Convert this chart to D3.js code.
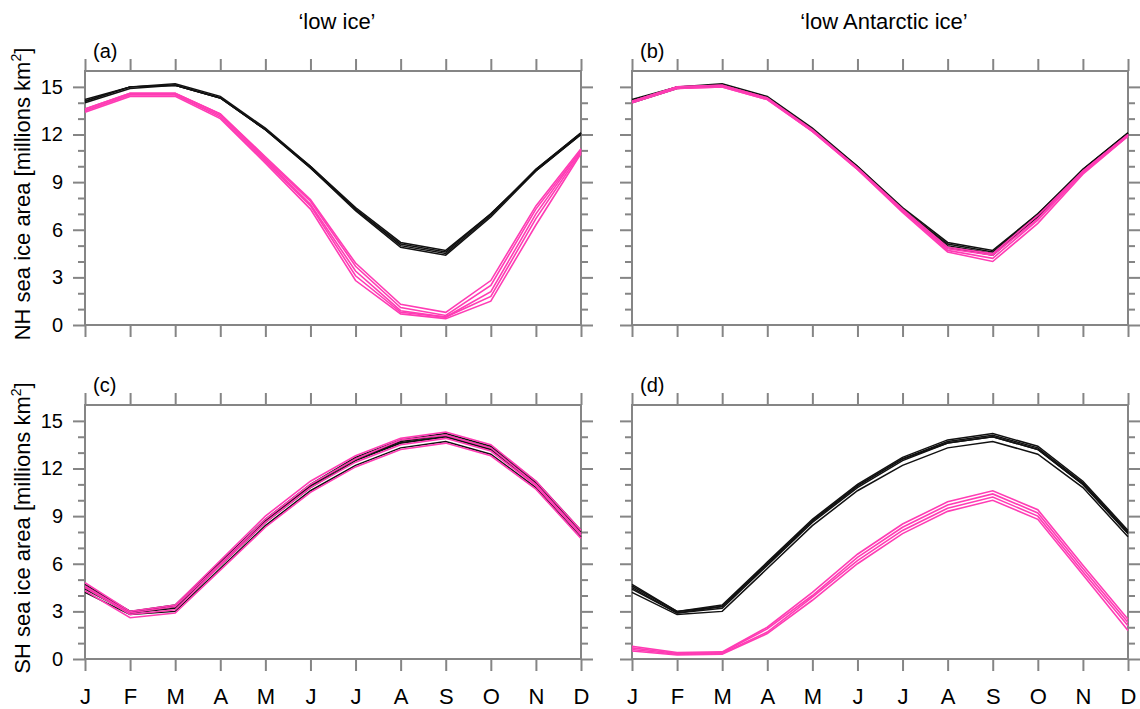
<!DOCTYPE html>
<html>
<head>
<meta charset="utf-8">
<script src="https://cdn.jsdelivr.net/npm/d3@7"></script>
<style>
  body { margin: 0; background: #fff; }
</style>
</head>
<body>
<svg></svg>
<script>
// month labels and y ticks
var months = ["J", "F", "M", "A", "M", "J", "J", "A", "S", "O", "N", "D"];
var yMajor = [0, 3, 6, 9, 12, 15];
var yMinor = [1, 2, 4, 5, 7, 8, 10, 11, 13, 14];

// NH control members (black, panels a and b)
var ctlNH1 = [14.0, 14.9, 15.1, 14.3, 12.3, 9.9, 7.2, 4.9, 4.4, 6.8, 9.7, 12.0];
var ctlNH2 = [14.1, 15.0, 15.1, 14.3, 12.3, 10.0, 7.3, 5.0, 4.5, 6.9, 9.8, 12.1];
var ctlNH3 = [14.2, 15.0, 15.2, 14.4, 12.4, 10.0, 7.4, 5.2, 4.7, 7.0, 9.8, 12.1];
var ctlNH4 = [14.1, 15.0, 15.1, 14.3, 12.3, 9.9, 7.3, 5.1, 4.6, 7.0, 9.7, 12.0];

// NH 'low ice' members (pink, panel a)
var lowNH1 = [13.4, 14.4, 14.4, 13.0, 10.2, 7.3, 2.8, 0.7, 0.4, 1.5, 6.3, 10.8];
var lowNH2 = [13.5, 14.5, 14.5, 13.1, 10.3, 7.5, 3.1, 0.8, 0.5, 1.8, 6.7, 10.9];
var lowNH3 = [13.5, 14.5, 14.5, 13.2, 10.4, 7.6, 3.4, 0.9, 0.5, 2.1, 7.0, 11.0];
var lowNH4 = [13.6, 14.6, 14.6, 13.3, 10.5, 7.8, 3.7, 1.1, 0.6, 2.5, 7.3, 11.0];
var lowNH5 = [13.6, 14.6, 14.6, 13.3, 10.6, 7.9, 3.9, 1.3, 0.8, 2.8, 7.5, 11.1];

// NH 'low Antarctic ice' members (pink, panel b)
var antNH1 = [14.0, 14.9, 15.0, 14.2, 12.2, 9.8, 7.1, 4.6, 4.0, 6.4, 9.5, 11.9];
var antNH2 = [14.0, 14.9, 15.0, 14.2, 12.2, 9.8, 7.2, 4.7, 4.2, 6.6, 9.6, 11.9];
var antNH3 = [14.1, 15.0, 15.1, 14.3, 12.2, 9.9, 7.2, 4.8, 4.4, 6.7, 9.7, 12.0];
var antNH4 = [14.1, 15.0, 15.1, 14.3, 12.3, 9.9, 7.3, 4.9, 4.5, 6.9, 9.7, 12.0];

// SH control members (black, panels c and d)
var ctlSH1 = [4.2, 2.8, 3.0, 5.7, 8.4, 10.6, 12.2, 13.3, 13.7, 12.9, 10.8, 7.7];
var ctlSH2 = [4.4, 2.9, 3.2, 5.9, 8.6, 10.8, 12.5, 13.6, 14.0, 13.2, 11.0, 7.9];
var ctlSH3 = [4.6, 3.0, 3.3, 6.0, 8.7, 10.9, 12.6, 13.7, 14.1, 13.3, 11.1, 8.0];
var ctlSH4 = [4.7, 3.0, 3.4, 6.1, 8.8, 11.0, 12.7, 13.8, 14.2, 13.4, 11.2, 8.1];
var ctlSH5 = [4.5, 2.9, 3.3, 6.0, 8.7, 10.9, 12.6, 13.6, 14.0, 13.2, 11.0, 7.9];

// SH 'low ice' members (pink, panel c)
var lowSH1 = [4.3, 2.6, 2.9, 5.6, 8.3, 10.5, 12.1, 13.2, 13.6, 12.8, 10.7, 7.6];
var lowSH2 = [4.5, 2.8, 3.1, 5.9, 8.6, 10.8, 12.4, 13.5, 13.9, 13.1, 10.9, 7.8];
var lowSH3 = [4.6, 2.9, 3.3, 6.0, 8.8, 11.0, 12.6, 13.8, 14.1, 13.3, 11.0, 7.9];
var lowSH4 = [4.8, 3.0, 3.4, 6.2, 9.0, 11.2, 12.8, 13.9, 14.3, 13.5, 11.2, 8.1];

// SH 'low Antarctic ice' members (pink, panel d)
var antSH1 = [0.5, 0.25, 0.3, 1.6, 3.7, 6.0, 7.9, 9.3, 10.0, 8.8, 5.3, 1.8];
var antSH2 = [0.6, 0.3, 0.35, 1.7, 3.9, 6.2, 8.1, 9.5, 10.2, 9.0, 5.5, 2.1];
var antSH3 = [0.7, 0.35, 0.4, 1.9, 4.0, 6.4, 8.3, 9.7, 10.4, 9.2, 5.7, 2.3];
var antSH4 = [0.8, 0.4, 0.45, 2.0, 4.2, 6.6, 8.5, 9.9, 10.6, 9.4, 5.9, 2.5];

var colTitles = ["\u2018low ice\u2019", "\u2018low Antarctic ice\u2019"];
var rowTitles = ["NH sea ice area [millions km", "SH sea ice area [millions km"];

var panels = [
  { label: "(a)", col: 0, row: 0, black: [ctlNH1, ctlNH2, ctlNH3, ctlNH4], pink: [lowNH1, lowNH2, lowNH3, lowNH4, lowNH5] },
  { label: "(b)", col: 1, row: 0, black: [ctlNH1, ctlNH2, ctlNH3, ctlNH4], pink: [antNH1, antNH2, antNH3, antNH4] },
  { label: "(c)", col: 0, row: 1, black: [ctlSH1, ctlSH2, ctlSH3, ctlSH4, ctlSH5], pink: [lowSH1, lowSH2, lowSH3, lowSH4] },
  { label: "(d)", col: 1, row: 1, black: [ctlSH1, ctlSH2, ctlSH3, ctlSH4, ctlSH5], pink: [antSH1, antSH2, antSH3, antSH4] }
];

// layout
var colX = [85, 632], rowY = [71, 405];
var pw = 496, ph = 254;
var axisCol = "#858585";
var pinkCol = "#ff3cb4";
var font = "Liberation Sans, Arial, sans-serif";

var svg = d3.select("svg")
    .attr("width", 1140)
    .attr("height", 709)
    .attr("font-family", font);

var x = d3.scaleLinear().domain([0, 11]).range([0, pw]);
var y = d3.scaleLinear().domain([0, 16]).range([ph, 0]);

var line = d3.line()
    .x(function(d, i) { return x(i); })
    .y(function(d) { return y(d); });

// column titles
svg.selectAll(".coltitle")
    .data(colTitles)
    .enter().append("text")
    .attr("x", function(d, i) { return colX[i] + pw / 2 + 4; })
    .attr("y", 29)
    .attr("text-anchor", "middle")
    .attr("font-size", 22)
    .text(function(d) { return d; });

// row titles (rotated, with superscript 2)
rowTitles.forEach(function(t, i) {
  var tx = svg.append("text")
      .attr("transform", "translate(30," + (rowY[i] + ph / 2 - 4) + ") rotate(-90)")
      .attr("text-anchor", "middle")
      .attr("font-size", 22);
  tx.append("tspan").text(t);
  tx.append("tspan").attr("font-size", 14).attr("dy", -9).text("2");
  tx.append("tspan").attr("dy", 9).text("]");
});

function drawAxis(g, axis, tx, ty) {
  var ag = g.append("g")
      .attr("transform", "translate(" + tx + "," + ty + ")")
      .call(axis.tickSizeOuter(0));
  ag.select(".domain").remove();
  ag.selectAll("line").attr("stroke", axisCol).attr("stroke-width", 2);
  ag.selectAll("text").attr("fill", "#000").attr("font-family", font);
  return ag;
}

panels.forEach(function(p) {
  var g = svg.append("g")
      .attr("transform", "translate(" + colX[p.col] + "," + rowY[p.row] + ")");

  // y ticks, outward on both sides
  var yl = drawAxis(g, d3.axisLeft(y).tickValues(yMajor).tickSize(12), 0, 0);
  drawAxis(g, d3.axisLeft(y).tickValues(yMinor).tickSize(7), 0, 0).selectAll("text").remove();
  drawAxis(g, d3.axisRight(y).tickValues(yMajor).tickSize(12), pw, 0).selectAll("text").remove();
  drawAxis(g, d3.axisRight(y).tickValues(yMinor).tickSize(7), pw, 0).selectAll("text").remove();

  // month ticks top and bottom
  drawAxis(g, d3.axisTop(x).tickValues(d3.range(12)).tickSize(12), 0, 0).selectAll("text").remove();
  var xl = drawAxis(g, d3.axisBottom(x).tickValues(d3.range(12)).tickSize(12), 0, ph);

  if (p.col == 0) {
    yl.selectAll("text").attr("font-size", 20).attr("x", -22);
  } else {
    yl.selectAll("text").remove();
  }
  if (p.row == 1) {
    xl.selectAll("text")
        .attr("font-size", 22)
        .attr("y", 45)
        .attr("dy", null)
        .text(function(d) { return months[d]; });
  } else {
    xl.selectAll("text").remove();
  }

  // frame
  g.append("rect")
      .attr("width", pw)
      .attr("height", ph)
      .attr("fill", "none")
      .attr("stroke", axisCol)
      .attr("stroke-width", 2);

  // ensemble lines
  g.selectAll(".blk")
      .data(p.black)
      .enter().append("path")
      .attr("class", "blk")
      .attr("d", line)
      .attr("fill", "none")
      .attr("stroke", "#111")
      .attr("stroke-width", 1.5);

  g.selectAll(".pnk")
      .data(p.pink)
      .enter().append("path")
      .attr("class", "pnk")
      .attr("d", line)
      .attr("fill", "none")
      .attr("stroke", pinkCol)
      .attr("stroke-width", 1.6);

  // panel letter
  g.append("text")
      .attr("x", 8)
      .attr("y", -13)
      .attr("font-size", 20)
      .text(p.label);
});
</script>
</body>
</html>
